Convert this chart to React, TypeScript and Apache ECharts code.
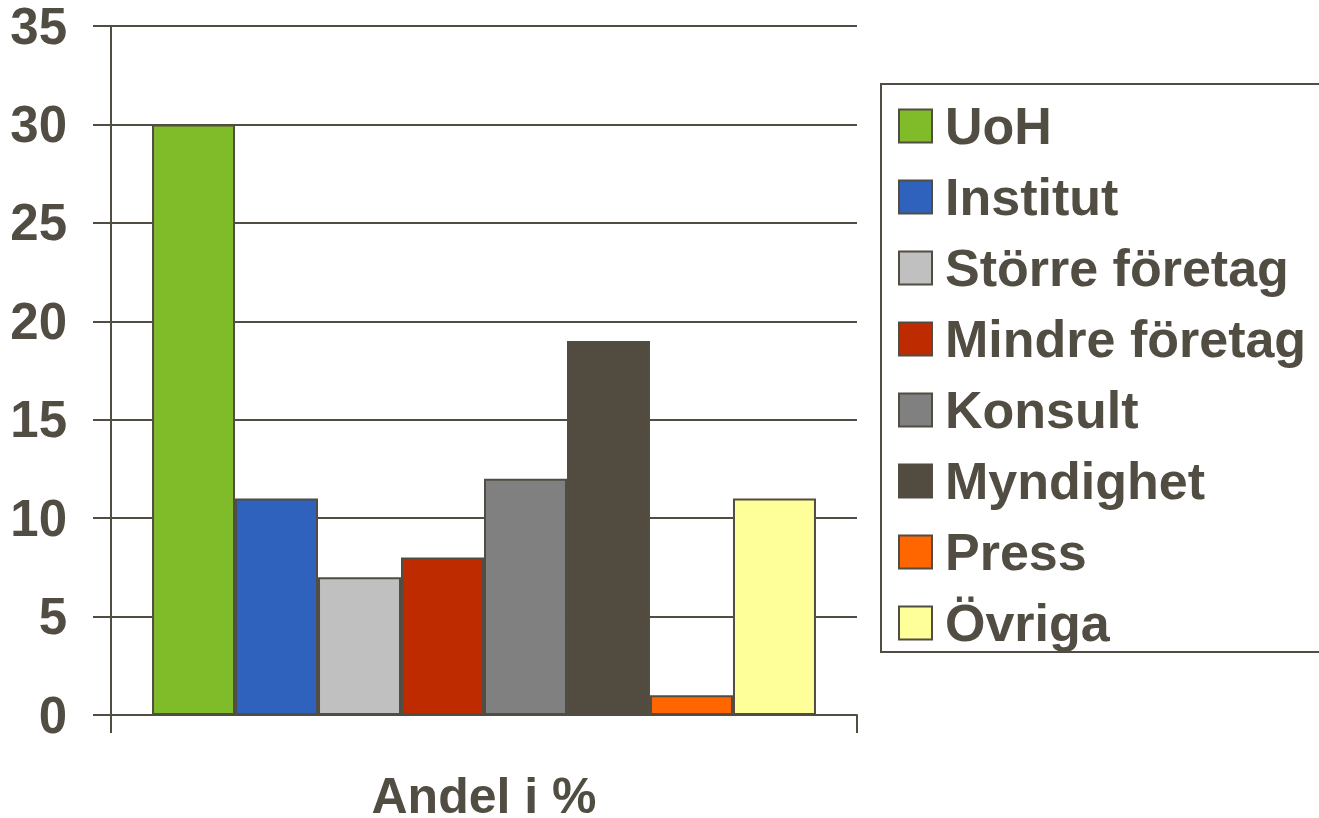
import React, { useEffect, useRef } from "react";
import * as echarts from "echarts";

const categories = ["Andel i %"];
const seriesNames = ["UoH", "Institut", "Större företag", "Mindre företag", "Konsult", "Myndighet", "Press", "Övriga"];
const seriesValues = [30, 11, 7, 8, 12, 19, 1, 11];
const seriesColors = ["#80bc2a", "#2e62bd", "#c0c0c0", "#bf2b00", "#808080", "#514b40", "#ff6600", "#ffff99"];

const TXT = "#524d42";
const FONT = "'Liberation Sans', Arial, sans-serif";

export default function App() {
  const ref = useRef<HTMLDivElement>(null);
  useEffect(() => {
    const chart = echarts.init(ref.current!, undefined, { renderer: "svg" });
    chart.setOption({
      animation: false,
      grid: { left: 111, right: 462, top: 26, bottom: 103, containLabel: false, outerBoundsMode: "none" },
      xAxis: {
        type: "category",
        data: categories,
        axisLine: { lineStyle: { color: TXT, width: 2 } },
        axisTick: { show: true, length: 18, lineStyle: { color: TXT, width: 2 } },
        axisLabel: { color: TXT, fontSize: 50, lineHeight: 40, fontFamily: FONT, fontWeight: "bold", margin: 61 },
      },
      yAxis: {
        type: "value",
        min: 0,
        max: 35,
        interval: 5,
        axisLine: { show: true, lineStyle: { color: TXT, width: 2 } },
        axisTick: { show: true, length: 18, lineStyle: { color: TXT, width: 2 } },
        splitLine: { lineStyle: { color: TXT, width: 2 } },
        axisLabel: { color: TXT, fontSize: 51, lineHeight: 40, fontFamily: FONT, fontWeight: "bold", margin: 44, padding: [4, 0, 0, 0] },
      },
      legend: {
        orient: "vertical",
        left: 898,
        top: 100,
        padding: 0,
        icon: "rect",
        itemWidth: 33,
        itemHeight: 33,
        itemGap: 19,
        textStyle: { color: TXT, fontSize: 52, fontFamily: FONT, fontWeight: "bold", lineHeight: 51, padding: [0, 0, 0, 8] },
        data: seriesNames,
      },
      graphic: [
        {
          type: "rect",
          shape: { x: 881, y: 84, width: 460, height: 568 },
          style: { fill: "none", stroke: TXT, lineWidth: 2 },
          z: -1,
        },
      ],
      series: seriesNames.map((name, i) => ({
        name,
        type: "bar",
        data: [seriesValues[i]],
        barGap: "0%",
        barCategoryGap: "11%",
        itemStyle: { color: seriesColors[i], borderColor: TXT, borderWidth: 2 },
      })),
    });
    return () => chart.dispose();
  }, []);
  return <div ref={ref} style={{ width: 1319, height: 818, position: "absolute", left: 0, top: 0 }} />;
}
